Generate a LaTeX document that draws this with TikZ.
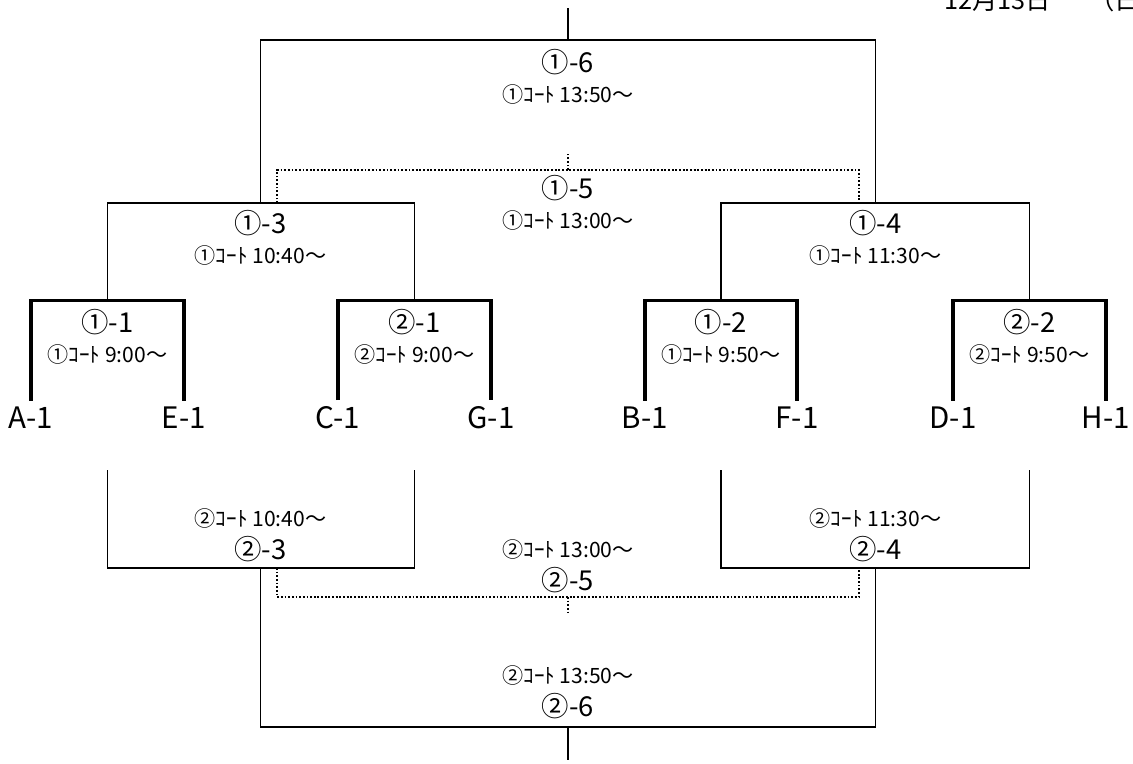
\documentclass[tikz,border=0pt]{standalone}
\usepackage{fontspec}
\setmainfont{Noto Sans CJK JP}
\usepackage{tikz}

\tikzset{
  bout/.style={line width=1.4pt},
  rfirst/.style={line width=2.2pt},
  consol/.style={line width=1.2pt, dash pattern=on 1.3pt off 1.3pt},
  game/.style={font=\fontsize{19.5}{19.5}\selectfont, inner sep=0pt},
  court/.style={font=\fontsize{15}{15}\selectfont, inner sep=0pt},
  team/.style={font=\fontsize{21}{21}\selectfont, inner sep=4.5pt},
  date/.style={font=\fontsize{18}{18}\selectfont, inner sep=0pt},
}

\begin{document}
\begin{tikzpicture}[x=0.025cm, y=-0.025cm]
	\useasboundingbox (0,0) rectangle (1133,764);
	\node[date, anchor=west] (day) at (944,0) {12月13日\hspace{27pt}（日）};
	% entries and first round
	\foreach \x/\t in {31/A,184/E,338/C,491/G,645/B,797/F,953/D,1106/H}
	  \node[team] (t\t) at (\x,418) {\t-1};
	\foreach \a/\b in {A/E,C/G,B/F,D/H}
	  \draw[rfirst] (t\a.north) -- ++(0,-100) -| (t\b.north);
	\coordinate (w11) at (107.5,300);
	\coordinate (w21) at (414.5,300);
	\coordinate (w12) at (721,300);
	\coordinate (w22) at (1029.5,300);
	% upper side
	\coordinate (w13) at (260.5,203);
	\coordinate (w14) at (875.5,203);
	\coordinate (w16) at (568,40);
	\coordinate (top) at (568,8);
	\draw[bout] (w11) |- (w13) -| (w21);
	\draw[bout] (w12) |- (w14) -| (w22);
	\draw[bout] (w13) |- (w16) -| (w14);
	\draw[bout] (w16) -- (top);
	\coordinate (d13) at (277,203);
	\coordinate (d14) at (859,203);
	\coordinate (w15) at (568,170);
	\coordinate (s15) at (568,152);
	\draw[consol] (d13) |- (w15) -| (d14);
	\draw[consol] (w15) -- (s15);
	% lower side
	\coordinate (u1) at (107.5,470);
	\coordinate (u2) at (414.5,470);
	\coordinate (u3) at (721,470);
	\coordinate (u4) at (1029.5,470);
	\coordinate (w23) at (260.5,568);
	\coordinate (w24) at (875.5,568);
	\coordinate (w26) at (568,727);
	\coordinate (bot) at (568,760);
	\draw[bout] (u1) |- (w23) -| (u2);
	\draw[bout] (u3) |- (w24) -| (u4);
	\draw[bout] (w23) |- (w26) -| (w24);
	\draw[bout] (w26) -- (bot);
	\coordinate (d23) at (277,568);
	\coordinate (d24) at (859,568);
	\coordinate (w25) at (568,597);
	\coordinate (s25) at (568,614);
	\draw[consol] (d23) |- (w25) -| (d24);
	\draw[consol] (w25) -- (s25);
	% match labels
	\foreach \n/\x/\y/\g/\c in {11/107.5/322/①-1/①ｺｰﾄ 9:00～, 21/414.5/322/②-1/②ｺｰﾄ 9:00～,
	    12/721/322/①-2/①ｺｰﾄ 9:50～, 22/1029.5/322/②-2/②ｺｰﾄ 9:50～,
	    13/260.5/223/①-3/①ｺｰﾄ 10:40～, 14/875.5/223/①-4/①ｺｰﾄ 11:30～,
	    15/568/188/①-5/①ｺｰﾄ 13:00～, 16/568/62/①-6/①ｺｰﾄ 13:50～}{
	  \node[game] (g\n) at (\x,\y) {\g};
	  \node[court] (c\n) at (\x,\y+32) {\c};
	}
	\foreach \n/\x/\y/\g/\c in {23/260.5/549/②-3/②ｺｰﾄ 10:40～, 24/875.5/549/②-4/②ｺｰﾄ 11:30～,
	    25/568/580/②-5/②ｺｰﾄ 13:00～, 26/568/706/②-6/②ｺｰﾄ 13:50～}{
	  \node[game] (g\n) at (\x,\y) {\g};
	  \node[court] (c\n) at (\x,\y-31) {\c};
	}
\end{tikzpicture}
\end{document}
